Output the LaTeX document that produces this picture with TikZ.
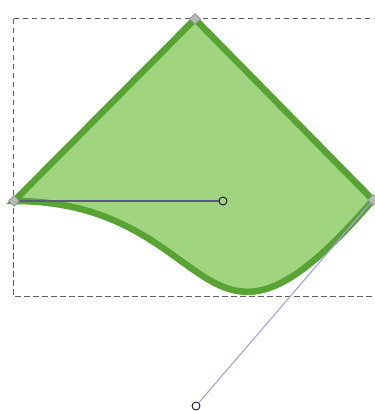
\documentclass[tikz,border=0pt]{standalone}
\usetikzlibrary{shapes.geometric}
\begin{document}
\begin{tikzpicture}[x=1pt,y=-1pt,
  shapefill/.style={fill=fillgreen,draw=strokegreen,line width=6.5pt,line join=miter},
  bbox/.style={draw=boxgrey,dash pattern=on 5.5pt off 3.5pt,line width=1pt},
  vtx/.style={diamond,fill=vgrey,draw=vgreydark,line width=0.5pt,inner sep=0pt,minimum size=11pt},
  ctrl/.style={circle,draw=black,line width=0.8pt,fill=none,inner sep=0pt,minimum size=8pt},
  handleA/.style={draw=handledark,line width=1.1pt},
  handleB/.style={draw=handlelav,line width=1.1pt}]
\definecolor{fillgreen}{RGB}{160,212,127}
\definecolor{strokegreen}{RGB}{88,164,50}
\definecolor{boxgrey}{RGB}{95,95,95}
\definecolor{vgrey}{RGB}{185,185,185}
\definecolor{vgreydark}{RGB}{130,130,130}
\definecolor{handledark}{RGB}{85,90,135}
\definecolor{handlelav}{RGB}{165,160,225}
\useasboundingbox (0,0) rectangle (374,411);
\fill[white] (0,0) rectangle (374,411);
\coordinate (pt) at (195,19);
\coordinate (pl) at (14,201);
\coordinate (pr) at (373,200);
\draw[shapefill] (pl) -- (pt) -- (pr) .. controls (196,406) and (223,201) .. (pl) -- cycle;
\begin{scope}
\clip (0,0) rectangle (374,411);
\draw[bbox] (13,19) rectangle (378,296);
\end{scope}
\node[ctrl] (cl) at (223,201) {};
\node[ctrl] (cr) at (196,406) {};
\draw[handleA] (pl) -- (cl);
\draw[handleB] (pr) -- (cr);
\node[vtx] (top) at (pt) {};
\node[vtx] (left) at (pl) {};
\node[vtx] (right) at (pr) {};
\end{tikzpicture}
\end{document}
